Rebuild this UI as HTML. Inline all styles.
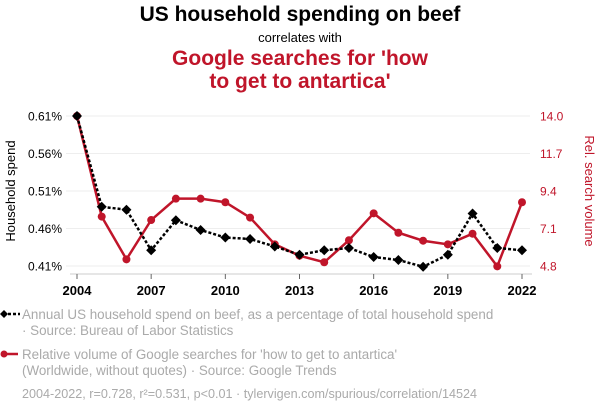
<!DOCTYPE html>
<html><head><meta charset="utf-8">
<style>
body{margin:0;background:#fff;font-family:"Liberation Sans",sans-serif;}
#wrap{position:relative;width:600px;height:414px;overflow:hidden;}
.t{position:absolute;left:0;width:600px;text-align:center;}
</style></head><body>
<div id="wrap">
<div class="t" style="top:3px;font-size:21px;font-weight:bold;color:#000;">US household spending on beef</div>
<div class="t" style="top:30px;font-size:13px;color:#000;">correlates with</div>
<div class="t" style="top:47px;font-size:21px;font-weight:bold;color:#c0152a;line-height:23px;">Google searches for 'how<br>to get to antartica'</div>
<svg id="chart" width="600" height="414" style="position:absolute;left:0;top:0"></svg>
</div>
<script>
const years=[2004,2005,2006,2007,2008,2009,2010,2011,2012,2013,2014,2015,2016,2017,2018,2019,2020,2021,2022];
const beef=[0.610,0.489,0.485,0.431,0.471,0.458,0.448,0.446,0.436,0.425,0.431,0.434,0.422,0.418,0.409,0.425,0.480,0.434,0.431];
const search=[14.0,7.83,5.21,7.62,8.93,8.93,8.71,7.77,6.13,5.43,5.03,6.38,8.03,6.84,6.35,6.13,6.78,4.78,8.71];
const leftTicks=[0.41,0.46,0.51,0.56,0.61];
const leftLabels=["0.41%","0.46%","0.51%","0.56%","0.61%"];
const rightTicks=[4.8,7.1,9.4,11.7,14.0];
const xTicks=[2004,2007,2010,2013,2016,2019,2022];
const NS="http://www.w3.org/2000/svg";
const svg=document.getElementById('chart');
const X=y=>77+(y-2004)*(522-77)/18;
const YL=v=>266-(v-0.41)*(150/0.20);
const YR=v=>266-(v-4.8)*(150/9.2);
function mk(tag,attrs,parent){const e=document.createElementNS(NS,tag);for(const k in attrs)e.setAttribute(k,attrs[k]);(parent||svg).appendChild(e);return e;}
leftTicks.forEach((v,i)=>{
 const g=mk('line',{x1:66,x2:530,y1:YL(v),y2:YL(v),stroke:'#eee','stroke-width':1});
 
 
 const t=mk('text',{x:62,y:YL(v)+4.5,'text-anchor':'end','font-size':12,fill:'#000'});
 t.textContent=leftLabels[i];
 
 
});
rightTicks.forEach(v=>{
 const t=mk('text',{x:540,y:YR(v)+4.5,'font-size':12,fill:'#c0152a'});
 t.textContent=v.toFixed(1);
 
 
});
const ax=mk('line',{x1:70,x2:532,y1:274,y2:274,stroke:'#ccc','stroke-width':1});


xTicks.forEach(y=>{
 const tk=mk('line',{x1:X(y),x2:X(y),y1:274,y2:279,stroke:'#666','stroke-width':1});
 
 
 const t=mk('text',{x:X(y),y:295,'text-anchor':'middle','font-size':13,'font-weight':'bold',fill:'#000'});
 t.textContent=y;
 
 
});
const yl=mk('text',{x:0,y:0,'font-size':13,fill:'#000','text-anchor':'middle',transform:'translate(15,191) rotate(-90)'});
yl.textContent='Household spend';


const yr=mk('text',{x:0,y:0,'font-size':13,fill:'#c0152a','text-anchor':'middle',transform:'translate(585,191) rotate(90)'});
yr.textContent='Rel. search volume';


const rl=mk('polyline',{points:years.map((y,i)=>X(y)+','+YR(search[i])).join(' '),fill:'none',stroke:'#c0152a','stroke-width':2.5});


years.forEach((y,i)=>{
 const c=mk('circle',{cx:X(y),cy:YR(search[i]),r:4,fill:'#c0152a'});
 
 
});
const bl=mk('polyline',{points:years.map((y,i)=>X(y)+','+YL(beef[i])).join(' '),fill:'none',stroke:'#000','stroke-width':2.5,'stroke-dasharray':'3,2'});


years.forEach((y,i)=>{
 const cx=X(y),cy=YL(beef[i]);
 const d=mk('polygon',{points:`${cx},${cy-5} ${cx+5},${cy} ${cx},${cy+5} ${cx-5},${cy}`,fill:'#000'});
 
 
});
const lg1=mk('g',{});


mk('line',{x1:3,x2:20,y1:314,y2:314,stroke:'#000','stroke-width':2.5,'stroke-dasharray':'3,2'},lg1);
mk('polygon',{points:'4,310 8,314 4,318 0,314',fill:'#000'},lg1);
const l1=mk('text',{x:22,y:319,'font-size':13.4,fill:'#aaa'},lg1);l1.textContent='Annual US household spend on beef, as a percentage of total household spend';
const l1b=mk('text',{x:22,y:335,'font-size':13.4,fill:'#aaa'},lg1);l1b.textContent='· Source: Bureau of Labor Statistics';
const lg2=mk('g',{});


mk('line',{x1:3,x2:18,y1:354,y2:354,stroke:'#c0152a','stroke-width':2.5},lg2);
mk('circle',{cx:4,cy:354,r:3.5,fill:'#c0152a'},lg2);
const l2=mk('text',{x:22,y:359,'font-size':13.4,fill:'#aaa'},lg2);l2.textContent="Relative volume of Google searches for 'how to get to antartica'";
const l2b=mk('text',{x:22,y:375,'font-size':13.4,fill:'#aaa'},lg2);l2b.textContent='(Worldwide, without quotes) · Source: Google Trends';
const f=mk('text',{x:22,y:398,'font-size':13,fill:'#aaa',textLength:455,lengthAdjust:'spacingAndGlyphs'});
f.textContent='2004-2022, r=0.728, r²=0.531, p<0.01 · tylervigen.com/spurious/correlation/14524';


</script>
</body></html>
